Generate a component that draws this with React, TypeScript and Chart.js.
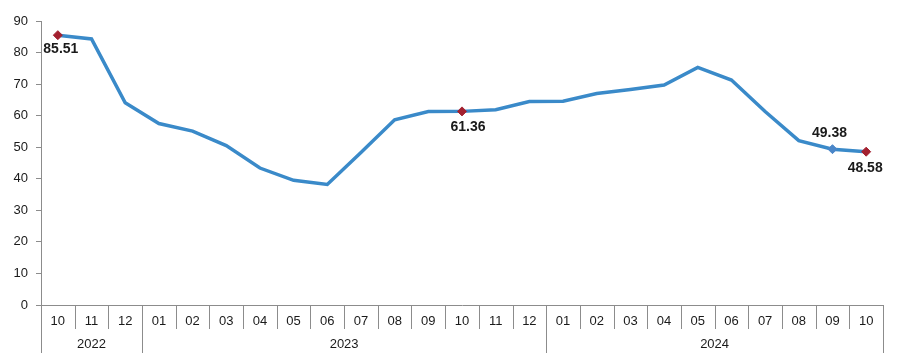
import React, { useEffect, useRef } from 'react';
import { Chart, registerables } from 'chart.js';
Chart.register(...registerables);

const months = ['10', '11', '12', '01', '02', '03', '04', '05', '06', '07', '08', '09', '10', '11', '12', '01', '02', '03', '04', '05', '06', '07', '08', '09', '10'];
const yearLabels = ['2022', '2023', '2024'];
const yearSpans = [3, 12, 10];
const values = [85.51, 84.3, 64.1, 57.5, 55.1, 50.5, 43.4, 39.5, 38.2, 48.3, 58.7, 61.3, 61.36, 61.9, 64.5, 64.6, 67.0, 68.3, 69.7, 75.3, 71.3, 61.3, 52.1, 49.38, 48.58];
const markerIdx = [0, 12, 23, 24];
const markerColors = ['#A3202F', '#A3202F', '#4A86C8', '#A3202F'];
const labelText = ['85.51', '61.36', '49.38', '48.58'];
const labelDx = [3, 6, -3, -1];
const labelDy = [14, 16, -16, 16];
const yTicks = [0, 10, 20, 30, 40, 50, 60, 70, 80, 90];

const FONT = '"Liberation Sans", Arial, sans-serif';
const GRAY = '#8c8c8c';
const TEXT = '#1a1a1a';

export default function App() {
  const ref = useRef<HTMLCanvasElement | null>(null);
  useEffect(() => {
    document.body.style.margin = '0';
    const canvas = ref.current!;
    const pointRadius = values.map((_, i) => (markerIdx.includes(i) ? 4.5 : 0));
    const pointColor = values.map((_, i) => {
      const k = markerIdx.indexOf(i);
      return k >= 0 ? markerColors[k] : '#3A8AC9';
    });
    const axisPlugin = {
      id: 'axisDeco',
      afterDraw(chart: any) {
        const ctx = chart.ctx;
        const xs = chart.scales.x;
        const area = chart.chartArea;
        const n = months.length;
        ctx.save();
        ctx.strokeStyle = GRAY;
        ctx.lineWidth = 1;
        const bottom = Math.round(area.bottom);
        for (let i = 0; i <= n; i++) {
          const x = Math.round(xs.getPixelForValue(i - 0.5)) + 0.5;
          ctx.beginPath();
          ctx.moveTo(x, bottom);
          ctx.lineTo(x, bottom + 24);
          ctx.stroke();
        }
        let start = 0;
        ctx.fillStyle = TEXT;
        ctx.font = '13px ' + FONT;
        ctx.textAlign = 'center';
        ctx.textBaseline = 'middle';
        const bounds = [0];
        yearSpans.forEach((s) => { start += s; bounds.push(start); });
        bounds.forEach((b) => {
          const x = Math.round(xs.getPixelForValue(b - 0.5)) + 0.5;
          ctx.beginPath();
          ctx.moveTo(x, bottom + 24);
          ctx.lineTo(x, bottom + 48);
          ctx.stroke();
        });
        for (let g = 0; g < yearLabels.length; g++) {
          const x0 = xs.getPixelForValue(bounds[g] - 0.5);
          const x1 = xs.getPixelForValue(bounds[g + 1] - 0.5);
          ctx.fillText(yearLabels[g], (x0 + x1) / 2, bottom + 39);
        }
        // data labels
        const meta = chart.getDatasetMeta(0);
        ctx.font = 'bold 14px ' + FONT;
        markerIdx.forEach((idx, k) => {
          const p = meta.data[idx];
          ctx.fillText(labelText[k], p.x + labelDx[k], p.y + labelDy[k]);
        });
        ctx.restore();
      },
    };
    const chart = new Chart(canvas, {
      type: 'line',
      data: {
        labels: months,
        datasets: [{
          data: values,
          borderColor: '#3A8AC9',
          borderWidth: 3.5,
          tension: 0,
          pointStyle: 'rectRot',
          pointRadius,
          pointHoverRadius: pointRadius,
          pointBackgroundColor: pointColor,
          pointBorderColor: pointColor,
          pointBorderWidth: 1,
        }],
      },
      options: {
        responsive: false,
        animation: false,
        events: [],
        layout: { padding: { top: 21, right: 23, left: 0, bottom: 0 } },
        plugins: { legend: { display: false }, tooltip: { enabled: false } },
        scales: {
          x: {
            type: 'category',
            offset: true,
            grid: { display: false },
            border: { display: true, color: GRAY, width: 1 },
            ticks: { autoSkip: false, maxRotation: 0, padding: 1, color: TEXT, font: { family: FONT, size: 13 } },
            afterFit: (s: any) => { s.height = 53; },
          },
          y: {
            min: 0,
            max: 90,
            afterBuildTicks: (s: any) => { s.ticks = yTicks.map((v) => ({ value: v })); },
            grid: { display: true, drawOnChartArea: false, tickLength: 5, color: GRAY },
            border: { display: true, color: GRAY, width: 1 },
            ticks: { padding: 8, color: TEXT, font: { family: FONT, size: 13 } },
            afterFit: (s: any) => { s.width = 41; },
          },
        },
      },
      plugins: [axisPlugin],
    });
    return () => chart.destroy();
  }, []);
  return <canvas ref={ref} width={906} height={358} style={{ display: 'block' }} />;
}
